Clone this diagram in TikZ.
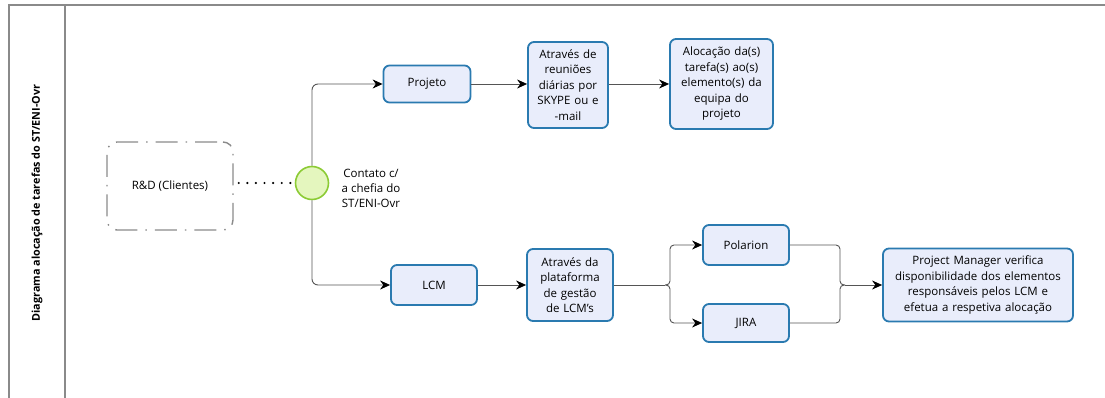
\documentclass[tikz,border=0pt]{standalone}
\usepackage{fontspec}
\setmainfont{Open Sans}
\usetikzlibrary{arrows.meta}
\definecolor{boxline}{HTML}{2A7AB0}
\definecolor{boxfill}{HTML}{E9EDFB}
\definecolor{frameline}{HTML}{8A8A8A}
\definecolor{conn}{HTML}{555555}
\definecolor{gfill}{HTML}{E4F6BE}
\definecolor{gline}{HTML}{8CCB35}
\tikzset{
  procbox/.style={draw=boxline, fill=boxfill, line width=1.8pt, rounded corners=6pt,
    align=center, inner sep=2pt, font=\fontsize{11.5}{15.5}\selectfont},
  conline/.style={draw=conn, line width=0.9pt},
  arr/.style={conline, -{Stealth[length=10pt,width=9pt,color=black]}},
  framestyle/.style={draw=frameline, line width=1.4pt},
}
\begin{document}
\begin{tikzpicture}[x=1pt,y=-1pt]
\useasboundingbox (0,0) rectangle (1105,398);
% frame
\draw[framestyle] (9,398) -- (9,5) -- (1105,5);
\draw[framestyle] (65,5) -- (65,398);
\node[rotate=90, font=\fontsize{10.8}{12}\selectfont\bfseries] (title) at (37,203) {Diagrama alocação de tarefas do ST/ENI-Ovr};
% R&D
\node[draw=frameline, line width=1.4pt, rounded corners=10pt,
      dash pattern=on 22pt off 8pt on 1.5pt off 8pt, dash phase=-6pt,
      minimum width=126pt, minimum height=88pt, font=\fontsize{11.5}{14}\selectfont] (rd) at (170,186) {R\&D (Clientes)};
% circle
\node[circle, draw=gline, fill=gfill, line width=1.6pt, minimum size=33pt, inner sep=0pt] (ev) at (312,183) {};
\node[align=center, font=\fontsize{11.5}{15}\selectfont] (evlabel) at (371,188) {Contato c/\\a chefia do\\ST/ENI-Ovr};
\draw[black, line width=2.4pt, line cap=round, dash pattern=on 0pt off 8.6pt] (rd.east) ++(5,-3) coordinate (dstart) (dstart) -- (ev.west);
% boxes
\node[procbox, minimum width=87pt, minimum height=37pt] (proj) at (427,84) {Projeto};
\node[procbox, minimum width=80pt, minimum height=86pt, text width=74pt] (reun) at (568,85) {Através de\\reuniões\\diárias por\\SKYPE ou e\\-mail};
\node[procbox, minimum width=103pt, minimum height=90pt, text width=98pt] (aloc) at (721.5,84) {Alocação da(s)\\tarefa(s) ao(s)\\elemento(s) da\\equipa do\\projeto};
\node[procbox, minimum width=86pt, minimum height=40pt] (lcm) at (434,285) {LCM};
\node[procbox, minimum width=86pt, minimum height=72pt, text width=80pt] (plat) at (570,285) {Através da\\plataforma\\de gestão\\de LCM's};
\node[procbox, minimum width=86pt, minimum height=40pt] (pol) at (746,245) {Polarion};
\node[procbox, minimum width=86pt, minimum height=38pt] (jira) at (746,323) {JIRA};
\node[procbox, minimum width=190pt, minimum height=73pt, text width=184pt] (pm) at (978,285) {Project Manager verifica\\disponibilidade dos elementos\\responsáveis pelos LCM e\\efetua a respetiva alocação};
% connectors
\draw[arr, rounded corners=6pt] (ev.north) |- (proj.west);
\draw[arr, rounded corners=6pt] (ev.south) |- (lcm.west);
\draw[arr] (proj.east) -- (reun.west |- proj.east);
\draw[arr] (reun.east |- proj.east) -- (aloc.west |- proj.east);
\draw[arr] (lcm.east) -- (plat.west |- lcm.east);
\coordinate (split) at (665,285);
\coordinate (merge) at (845,285);
\draw[conline] (plat.east |- split) -- (split);
\draw[arr, rounded corners=4pt] (split) -- (670,285) -- (670,245) -- (pol.west);
\draw[arr, rounded corners=4pt] (split) -- (670,285) -- (670,323) -- (jira.west);
\draw[conline, rounded corners=4pt] (pol.east) -- (840,245) -- (840,285) -- (merge);
\draw[conline, rounded corners=4pt] (jira.east) -- (840,323) -- (840,285) -- (merge);
\draw[arr] (merge) -- (pm.west);
\end{tikzpicture}
\end{document}
